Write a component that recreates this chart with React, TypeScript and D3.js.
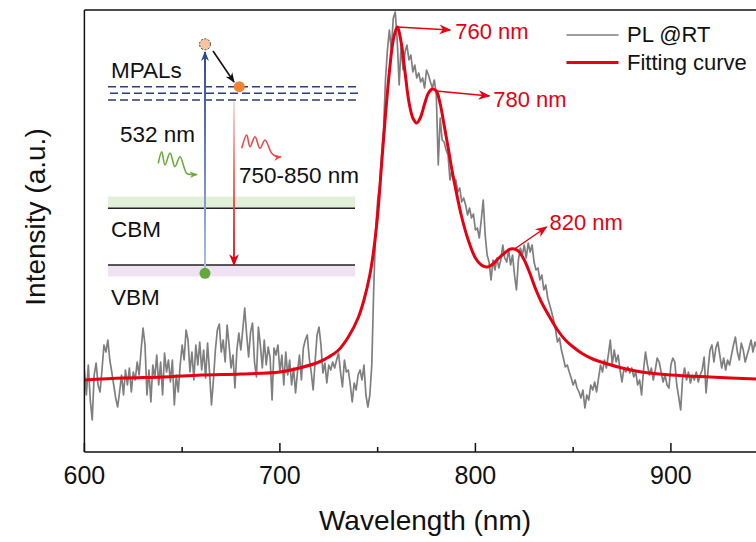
import React, { useEffect, useRef } from "react";
import * as d3 from "d3";

// PL spectrum at room temperature, 1 nm steps starting at 600 nm (a.u.)
const PL_START = 600;
const plIntensity = [
  82, 57, 87, 52, 32, 77, 89, 67, 60, 82, 107, 100, 112, 92, 80, 67, 54, 45, 60, 77,
  57, 82, 67, 84, 60, 80, 72, 90, 77, 102, 124, 107, 57, 82, 50, 87, 74, 97, 67, 90,
  57, 99, 80, 92, 70, 92, 47, 77, 60, 87, 107, 92, 122, 112, 80, 100, 72, 107, 87, 110,
  82, 102, 74, 109, 80, 47, 72, 102, 122, 128, 100, 112, 90, 127, 107, 84, 97, 64, 102, 119,
  102, 122, 144, 117, 95, 120, 129, 90, 75, 125, 107, 84, 112, 87, 105, 94, 52, 104, 97, 107,
  80, 97, 67, 100, 77, 92, 67, 84, 59, 80, 97, 72, 104, 112, 117, 94, 80, 62, 90, 117,
  125, 107, 79, 89, 69, 87, 82, 90, 84, 92, 99, 80, 65, 92, 80, 82, 67, 50, 69, 62,
  77, 82, 72, 87, 57, 45, 57, 87, 164, 222, 252, 267, 297, 322, 372, 402, 422, 402, 434, 440,
  412, 367, 407, 382, 400, 407, 392, 397, 380, 387, 374, 379, 370, 374, 364, 382, 377, 370, 364, 372,
  357, 287, 334, 312, 310, 302, 297, 272, 282, 274, 272, 260, 264, 250, 254, 247, 237, 244, 234, 238,
  222, 224, 214, 232, 252, 217, 197, 190, 172, 192, 182, 194, 184, 192, 207, 194, 190, 202, 187, 197,
  177, 162, 192, 204, 197, 207, 194, 209, 200, 207, 190, 182, 184, 172, 177, 162, 167, 154, 147, 140,
  132, 122, 110, 114, 102, 94, 85, 87, 80, 74, 67, 72, 64, 60, 54, 62, 44, 57, 52, 67,
  62, 70, 60, 74, 87, 80, 92, 84, 97, 112, 87, 102, 90, 97, 82, 70, 84, 80, 85, 79,
  84, 75, 80, 67, 72, 57, 82, 100, 87, 77, 84, 72, 82, 94, 90, 80, 70, 77, 67, 64,
  87, 94, 90, 67, 55, 42, 74, 84, 72, 80, 69, 77, 72, 80, 70, 77, 82, 95, 59, 82,
  102, 107, 90, 104, 110, 97, 84, 94, 82, 92, 87, 97, 107, 115, 100, 92, 109, 102, 90, 97,
  104, 112, 100, 110, 104,
];

// Fitting curve (sum of three peaks)
const fitWavelength = [
  600, 620, 640, 660, 680, 700, 710, 720, 725, 730, 735, 740, 743, 746, 748, 750, 752, 754,
  756, 758, 760, 762, 764, 766, 768, 770, 772, 774, 776, 778, 780, 782, 784, 786, 788, 790,
  793, 796, 800, 803, 806, 809, 812, 815, 818, 820, 822, 825, 828, 831, 834, 838, 842, 846,
  850, 855, 860, 866, 875, 885, 900, 920, 945,
];
const fitIntensity = [
  72, 74, 75, 77, 78, 80, 84, 90, 95, 102, 115, 134, 152, 177, 202, 237, 287, 337,
  380, 412, 425, 410, 380, 350, 334, 329, 335, 348, 359, 363, 361, 348, 327, 305, 282, 262,
  235, 214, 194, 187, 185, 188, 194, 199, 203, 203, 201, 192, 178, 162, 149, 135, 122, 112,
  105, 98, 93, 89, 84, 80, 77, 75, 73,
];

const xMajorTicks = [600, 700, 800, 900, 1000];
const xMinorTicks = [650, 750, 850, 950];
const xTickLabels = [600, 700, 800, 900];
const peaks = [
  { wl: 760, label: "760 nm", dx: 53, dy: 3, tx: 58, ty: 12 },
  { wl: 780, label: "780 nm", dx: 53, dy: 5, tx: 57, ty: 16 },
  { wl: 820, label: "820 nm", dx: 32, dy: -22, tx: 35, ty: -19 },
];

const W = 756;
const H = 542;
const FONT = "Arial, 'Liberation Sans', sans-serif";

const App = () => {
  const ref = useRef<HTMLDivElement>(null);

  useEffect(() => {
    const root = d3.select(ref.current);
    root.selectAll("*").remove();
    const svg = root
      .append("svg")
      .attr("width", W)
      .attr("height", H)
      .style("position", "absolute")
      .style("left", "0px")
      .style("top", "0px")
      .style("font-family", FONT);

    const left = 84.4;
    const top = 10;
    const bottom = 452;
    const x = d3.scaleLinear().domain([600, 1000]).range([left, left + 4 * 195.5]);
    const y = d3.scaleLinear().domain([0, 442]).range([bottom, top]);

    const defs = svg.append("defs");
    defs
      .append("clipPath")
      .attr("id", "plot")
      .append("rect")
      .attr("x", left)
      .attr("y", top - 4)
      .attr("width", W - left)
      .attr("height", bottom - top + 4);

    const marker = (id: string, color: string, size: number) =>
      defs
        .append("marker")
        .attr("id", id)
        .attr("viewBox", "0 0 10 10")
        .attr("refX", 9)
        .attr("refY", 5)
        .attr("markerWidth", size)
        .attr("markerHeight", size)
        .attr("markerUnits", "userSpaceOnUse")
        .attr("orient", "auto")
        .append("path")
        .attr("d", "M0,1 L10,5 L0,9 L3,5 Z")
        .attr("fill", color);
    marker("arRed", "#e60012", 12);
    marker("arBlue", "#2f4a8c", 10);
    marker("arBlack", "#111", 10);
    marker("arGreen", "#6aaa3a", 8);
    marker("arPink", "#f04848", 8);

    const gBlue = defs
      .append("linearGradient")
      .attr("id", "gBlue")
      .attr("x1", 0).attr("y1", 1).attr("x2", 0).attr("y2", 0);
    gBlue.append("stop").attr("offset", "0%").attr("stop-color", "#a9c0e8");
    gBlue.append("stop").attr("offset", "100%").attr("stop-color", "#2f4a8c");
    const gRed = defs
      .append("linearGradient")
      .attr("id", "gRed")
      .attr("x1", 0).attr("y1", 0).attr("x2", 0).attr("y2", 1);
    gRed.append("stop").attr("offset", "0%").attr("stop-color", "#ffd6d6");
    gRed.append("stop").attr("offset", "45%").attr("stop-color", "#ff5a5a");
    gRed.append("stop").attr("offset", "100%").attr("stop-color", "#e60012");

    // ---- inset band diagram ----
    const inset = svg.append("g");
    inset.append("rect").attr("x", 108).attr("y", 196.5).attr("width", 247).attr("height", 12).attr("fill", "#e2f0d9");
    inset.append("rect").attr("x", 108).attr("y", 265).attr("width", 247).attr("height", 11.5).attr("fill", "#efe3f3");
    [208.3, 265].forEach((yy) =>
      inset.append("line").attr("x1", 108).attr("x2", 355).attr("y1", yy).attr("y2", yy).attr("stroke", "#222").attr("stroke-width", 1.5)
    );
    [86.7, 93.3, 100].forEach((yy, i) =>
      inset
        .append("line")
        .attr("x1", 108 + (i === 1 ? 2 : 0))
        .attr("x2", 359)
        .attr("y1", yy)
        .attr("y2", yy)
        .attr("stroke", "#2c3d78")
        .attr("stroke-width", 1.4)
        .attr("stroke-dasharray", "8,4")
    );
    inset
      .append("line")
      .attr("x1", 205).attr("x2", 205.01).attr("y1", 270).attr("y2", 52)
      .attr("stroke", "url(#gBlue)").attr("stroke-width", 2)
      .attr("marker-end", "url(#arBlue)");
    inset
      .append("line")
      .attr("x1", 234).attr("x2", 234.01).attr("y1", 101).attr("y2", 265)
      .attr("stroke", "url(#gRed)").attr("stroke-width", 1.8)
      .attr("marker-end", "url(#arRed)");
    inset
      .append("line")
      .attr("x1", 213).attr("y1", 51).attr("x2", 234).attr("y2", 82)
      .attr("stroke", "#111").attr("stroke-width", 1.6)
      .attr("marker-end", "url(#arBlack)");
    inset
      .append("circle").attr("cx", 205).attr("cy", 44.3).attr("r", 5.5)
      .attr("fill", "#f6c4a0").attr("stroke", "#444").attr("stroke-width", 1).attr("stroke-dasharray", "2,1.5");
    inset.append("circle").attr("cx", 239.3).attr("cy", 86.7).attr("r", 5.5).attr("fill", "#ee8434");
    inset.append("circle").attr("cx", 205).attr("cy", 273.3).attr("r", 5.5).attr("fill", "#62a83a");

    const wave = d3.line().curve(d3.curveCatmullRom.alpha(0.5));
    const greenWave: [number, number][] = [
      [158.3, 163.3], [161.7, 151.7], [165, 165], [170, 153], [175, 166.7], [180, 156.7],
      [186.7, 173.3], [191.7, 174.5], [197, 174.5],
    ];
    const redWave: [number, number][] = [
      [241.7, 148.3], [246.7, 135], [250, 146.7], [255, 136.7], [260, 148.3], [265, 140],
      [271.7, 153.3], [276.7, 156.7], [281, 156.7],
    ];
    inset.append("path").attr("d", wave(greenWave)).attr("fill", "none").attr("stroke", "#6aaa3a").attr("stroke-width", 1.6).attr("marker-end", "url(#arGreen)");
    inset.append("path").attr("d", wave(redWave)).attr("fill", "none").attr("stroke", "#f04848").attr("stroke-width", 1.6).attr("marker-end", "url(#arPink)");

    const insetText = [
      { t: "MPALs", x: 111, y: 78.3 },
      { t: "532 nm", x: 120, y: 141.7 },
      { t: "750-850 nm", x: 239, y: 183.3 },
      { t: "CBM", x: 111, y: 236.7 },
      { t: "VBM", x: 111, y: 305 },
    ];
    insetText.forEach((d) =>
      inset.append("text").attr("x", d.x).attr("y", d.y).attr("font-size", 22.5).attr("fill", "#111").text(d.t)
    );

    // ---- data ----
    const plot = svg.append("g").attr("clip-path", "url(#plot)");
    const pl: [number, number][] = plIntensity.map((v, i) => [PL_START + i, v]);
    const line = d3
      .line<[number, number]>()
      .x((d) => x(d[0]))
      .y((d) => y(d[1]));
    plot
      .append("path")
      .attr("d", line(pl))
      .attr("fill", "none")
      .attr("stroke", "#7f7f7f")
      .attr("stroke-width", 1.7)
      .attr("stroke-linejoin", "round");

    const fit: [number, number][] = fitWavelength.map((w, i) => [w, fitIntensity[i]]);
    plot
      .append("path")
      .attr("d", line.curve(d3.curveCatmullRom.alpha(0.5))(fit))
      .attr("fill", "none")
      .attr("stroke", "#e60012")
      .attr("stroke-width", 3);

    // ---- axes ----
    const ax = svg.append("g").attr("stroke", "#111").attr("stroke-width", 1.5);
    ax.append("line").attr("x1", left).attr("x2", W).attr("y1", bottom).attr("y2", bottom);
    ax.append("line").attr("x1", left).attr("x2", W).attr("y1", top).attr("y2", top);
    ax.append("line").attr("x1", left).attr("x2", left).attr("y1", top).attr("y2", bottom);
    xMajorTicks.forEach((t) =>
      ax.append("line").attr("x1", x(t)).attr("x2", x(t)).attr("y1", bottom).attr("y2", bottom - 9)
    );
    xMinorTicks.forEach((t) =>
      ax.append("line").attr("x1", x(t)).attr("x2", x(t)).attr("y1", bottom).attr("y2", bottom - 5)
    );
    xTickLabels.forEach((t) =>
      svg
        .append("text")
        .attr("x", x(t))
        .attr("y", 484)
        .attr("text-anchor", "middle")
        .attr("font-size", 25)
        .attr("fill", "#111")
        .text(t)
    );
    svg
      .append("text")
      .attr("x", 425)
      .attr("y", 530)
      .attr("text-anchor", "middle")
      .attr("font-size", 28)
      .attr("fill", "#111")
      .text("Wavelength (nm)");
    svg
      .append("text")
      .attr("transform", "translate(45,217) rotate(-90)")
      .attr("text-anchor", "middle")
      .attr("font-size", 28)
      .attr("fill", "#111")
      .text("Intensity (a.u.)");

    // ---- peak annotations ----
    peaks.forEach((p) => {
      const i = fitWavelength.indexOf(p.wl);
      const px = x(p.wl);
      const py = y(fitIntensity[i]);
      svg
        .append("line")
        .attr("x1", px).attr("y1", py)
        .attr("x2", px + p.dx).attr("y2", py + p.dy)
        .attr("stroke", "#e60012").attr("stroke-width", 1.5)
        .attr("marker-end", "url(#arRed)");
      svg
        .append("text")
        .attr("x", px + p.tx)
        .attr("y", py + p.ty)
        .attr("font-size", 22)
        .attr("fill", "#e60012")
        .text(p.label);
    });

    // ---- legend ----
    const legend = [
      { label: "PL @RT", color: "#7f7f7f", w: 1.7, y: 35 },
      { label: "Fitting curve", color: "#e60012", w: 3, y: 62.5 },
    ];
    legend.forEach((d) => {
      svg.append("line").attr("x1", 566.5).attr("x2", 618.5).attr("y1", d.y).attr("y2", d.y).attr("stroke", d.color).attr("stroke-width", d.w);
      svg.append("text").attr("x", 627).attr("y", d.y + 7).attr("font-size", 22).attr("fill", "#111").text(d.label);
    });
  });

  return <div ref={ref}></div>;
};

export default App;
